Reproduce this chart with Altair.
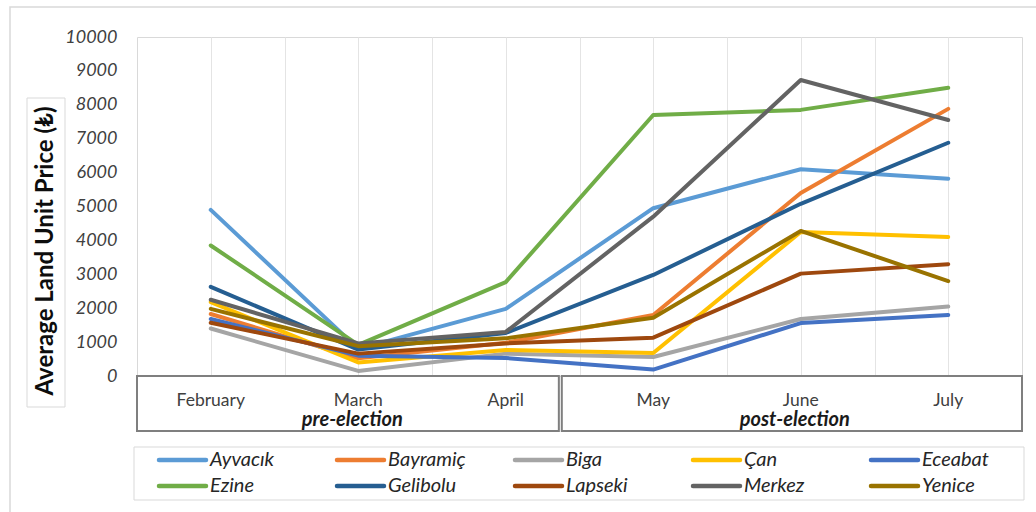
import altair as alt
import pandas as pd

months = ["February", "March", "April", "May", "June", "July"]
districts = ["Ayvacık", "Bayramiç", "Biga", "Çan", "Eceabat",
             "Ezine", "Gelibolu", "Lapseki", "Merkez", "Yenice"]
colors = ["#5B9BD5", "#ED7D31", "#A5A5A5", "#FFC000", "#4472C4",
          "#70AD47", "#255E91", "#9E480E", "#636363", "#997300"]

ayvacik = [4900, 800, 1980, 4950, 6100, 5820]
bayramic = [1830, 520, 980, 1800, 5400, 7880]
biga = [1400, 150, 660, 560, 1680, 2050]
can = [2180, 400, 770, 680, 4250, 4100]
eceabat = [1680, 600, 530, 190, 1560, 1800]
ezine = [3850, 920, 2770, 7700, 7850, 8500]
gelibolu = [2630, 780, 1270, 2980, 5080, 6880]
lapseki = [1570, 660, 960, 1130, 3020, 3300]
merkez = [2250, 960, 1300, 4700, 8730, 7550]
yenice = [1980, 880, 1110, 1720, 4280, 2800]

series = [ayvacik, bayramic, biga, can, eceabat,
          ezine, gelibolu, lapseki, merkez, yenice]

groups = ["pre-election", "post-election"]
group_months = [months[0:3], months[3:6]]

rows = []
for name, vals in zip(districts, series):
    for i, (m, v) in enumerate(zip(months, vals)):
        rows.append({"district": name, "month": m, "idx": i, "value": v})
df = pd.DataFrame(rows)

mdf = pd.DataFrame({"month": months, "idx": list(range(len(months)))})

gstart, gend, gcenter = [], [], []
for gm in group_months:
    first = months.index(gm[0])
    last = months.index(gm[-1])
    gstart.append(first - 0.5)
    gend.append(last + 0.5)
    gcenter.append((first + last) / 2)
gdf = pd.DataFrame({"group": groups, "x0": gstart, "x1": gend, "xc": gcenter})
# small gap between the two category boxes, as in the reference
gdf.loc[0, "x1"] = gdf.loc[0, "x1"] - 0.14
gdf.loc[1, "x0"] = gdf.loc[1, "x0"] - 0.12

# legend table: 5 columns x 2 rows
NCOL = 5
COL_W, SYM_W = 178, 47
ldf = pd.DataFrame({
    "district": districts,
    "col": [i % NCOL for i in range(len(districts))],
    "row": [i // NCOL for i in range(len(districts))],
})
ldf["colend"] = ldf["col"] + SYM_W / COL_W

FONT = "Lato"
W, H = 885, 339

xscale = alt.Scale(domain=[-0.5, 5.5], nice=False, zero=False)
grid_vals = [i * 0.5 for i in range(0, 11)]
cscale = alt.Scale(domain=districts, range=colors)

lines = alt.Chart(df).mark_line(strokeWidth=4, strokeCap="round", strokeJoin="round").encode(
    x=alt.X("idx:Q", scale=xscale,
            axis=alt.Axis(values=grid_vals, labels=False, ticks=False, domain=False,
                          grid=True, gridColor="#e4e4e4", gridWidth=1, title="")),
    y=alt.Y("value:Q", scale=alt.Scale(domain=[0, 10000], nice=False),
            axis=alt.Axis(values=list(range(0, 10001, 1000)), format="d", grid=False,
                          ticks=False, domain=False, labelFont=FONT, labelFontSize=18,
                          labelFontStyle="italic", labelColor="#404040",
                          labelPadding=20, title="")),
    color=alt.Color("district:N", sort=districts, scale=cscale, legend=None),
    order=alt.Order("idx:Q"),
)

month_text = alt.Chart(mdf).mark_text(font=FONT, fontSize=17.5, color="#404040",
                                      baseline="middle").encode(
    x=alt.X("idx:Q", scale=xscale, axis=None),
    y=alt.value(364),
    text="month:N",
)

boxes = alt.Chart(gdf).mark_rect(fillOpacity=0, stroke="#7f7f7f", strokeWidth=2).encode(
    x=alt.X("x0:Q", scale=xscale, axis=None),
    x2="x1:Q",
    y=alt.value(339),
    y2=alt.value(394),
)

group_text = alt.Chart(gdf).mark_text(font=FONT, fontSize=20, fontWeight="bold",
                                      fontStyle="italic", color="#1a1a1a",
                                      baseline="middle", dx=-6).encode(
    x=alt.X("xc:Q", scale=xscale, axis=None),
    y=alt.value(383),
    text="group:N",
)

lx = alt.Scale(domain=[0, NCOL], range=[22, 22 + NCOL * COL_W], nice=False, zero=False)
ly = alt.Scale(domain=[0, 1], range=[423, 449], nice=False, zero=False)

legend_sym = alt.Chart(ldf).mark_rule(strokeWidth=4.5, strokeCap="round").encode(
    x=alt.X("col:Q", scale=lx, axis=None),
    x2="colend:Q",
    y=alt.Y("row:Q", scale=ly, axis=None),
    color=alt.Color("district:N", scale=cscale, legend=None),
)

legend_txt = alt.Chart(ldf).mark_text(font=FONT, fontSize=20, fontStyle="italic",
                                      color="#262626", align="left", baseline="middle",
                                      dx=SYM_W + 4).encode(
    x=alt.X("col:Q", scale=lx, axis=None),
    y=alt.Y("row:Q", scale=ly, axis=None),
    text="district:N",
)

deco = pd.DataFrame({"k": [0]})

outer = alt.Chart(deco).mark_rect(fillOpacity=0, stroke="#d9d9d9", strokeWidth=1.5).encode(
    x=alt.value(-127), x2=alt.value(960), y=alt.value(-30), y2=alt.value(500))

title_box = alt.Chart(deco).mark_rect(fillOpacity=0, stroke="#d9d9d9", strokeWidth=1).encode(
    x=alt.value(-110), x2=alt.value(-72), y=alt.value(61), y2=alt.value(370))

legend_box = alt.Chart(deco).mark_rect(fillOpacity=0, stroke="#d9d9d9", strokeWidth=1).encode(
    x=alt.value(-3), x2=alt.value(887), y=alt.value(410), y2=alt.value(463))

ytitle = alt.Chart(pd.DataFrame({"t": ["Average Land Unit Price (₺)"]})).mark_text(
    font=FONT, fontSize=24, fontWeight="bold", color="#0d0d0d", angle=270,
    baseline="middle", align="center").encode(
    x=alt.value(-91), y=alt.value(214), text="t:N")

chart = alt.layer(outer, title_box, legend_box, lines, boxes, month_text, group_text,
                  ytitle, legend_sym, legend_txt).resolve_scale(
    x="independent", y="independent"
).properties(
    width=W, height=H,
    autosize=alt.AutoSizeParams(type="none"),
    padding={"left": 137, "top": 37, "right": 14, "bottom": 136},
    background="white",
).configure_view(stroke="#d9d9d9", strokeWidth=1)

chart.save("out.html", embed_options={"renderer": "svg", "actions": False})
